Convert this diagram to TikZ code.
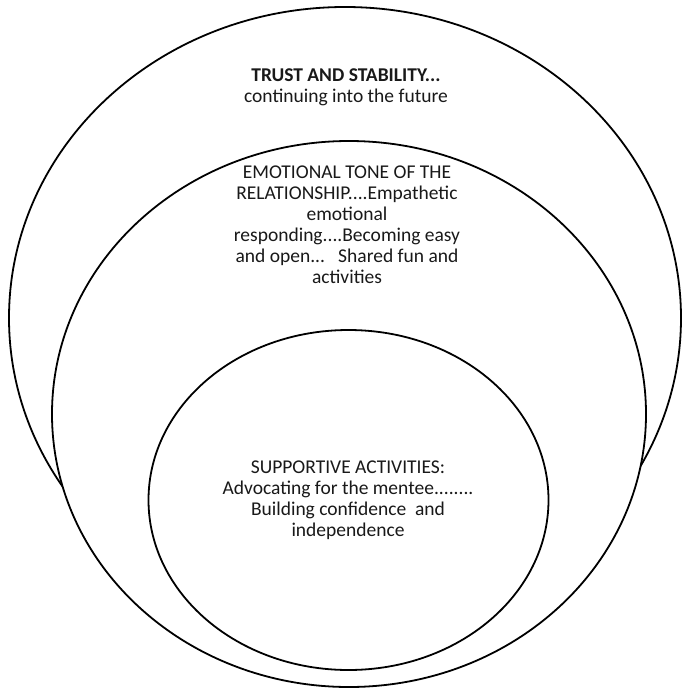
\documentclass[tikz,border=0pt]{standalone}
\usepackage{fontspec}
\setmainfont{Carlito}
\begin{document}
\begin{tikzpicture}[x=1pt,y=-1pt,
  ring/.style={draw=black,line width=1.8pt,fill=white},
  label/.style={align=center,inner sep=0pt,font=\fontsize{19.5}{21}\selectfont,text=black!90}]
\useasboundingbox (0,0) rectangle (682,688);
\fill[white] (0,0) rectangle (682,688);
\draw[ring] (345,318) ellipse [x radius=336pt,y radius=311pt];
\draw[ring] (349,414) ellipse [x radius=297pt,y radius=273pt];
\draw[ring] (348.5,500) ellipse [x radius=200pt,y radius=170pt];
\node[label] (trust) at (346,87.3) {\textbf{TRUST AND STABILITY...}\\continuing into the future};
\node[label] (emotion) at (347,225) {EMOTIONAL TONE OF THE\\RELATIONSHIP....Empathetic\\emotional\\responding....Becoming easy\\and open...\ \ \ Shared fun and\\activities};
\node[label] (support) at (348,500) {SUPPORTIVE ACTIVITIES:\\Advocating for the mentee........\\Building confidence\ \ and\\independence};
\end{tikzpicture}
\end{document}
